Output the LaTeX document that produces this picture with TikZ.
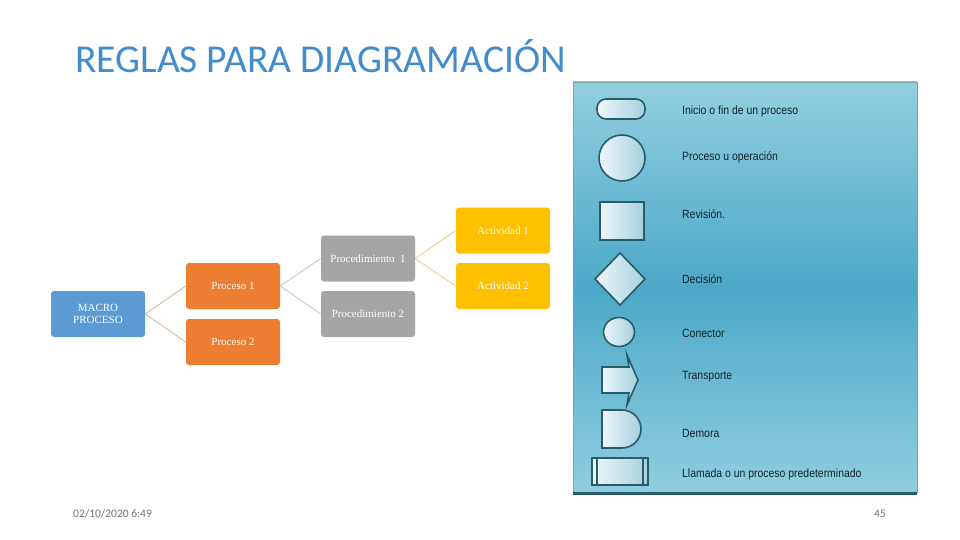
\documentclass[tikz,border=0pt]{standalone}
\usepackage{fontspec}
\setmainfont{Liberation Serif}
\newfontfamily\titlefont{Carlito}
\newfontfamily\labelfont{Liberation Sans}
\newfontfamily\footfont{Carlito}
\definecolor{macroblue}{RGB}{91,155,213}
\definecolor{procorange}{RGB}{237,125,49}
\definecolor{procgray}{RGB}{165,165,165}
\definecolor{actgold}{RGB}{255,192,0}
\definecolor{titleblue}{RGB}{66,140,206}
\definecolor{paneltop}{RGB}{146,207,224}
\definecolor{panelmid}{RGB}{76,168,199}
\definecolor{panelbot}{RGB}{143,206,224}
\definecolor{shapeline}{RGB}{40,92,106}
\definecolor{shapelight}{RGB}{238,247,250}
\definecolor{shapedark}{RGB}{165,208,222}
\definecolor{labeltext}{RGB}{20,36,44}
\definecolor{linktan}{RGB}{200,168,128}
\definecolor{linkgray}{RGB}{180,180,180}
\definecolor{linkgold}{RGB}{232,192,80}
\tikzset{
  box/.style={rounded corners=3pt, minimum width=94pt, minimum height=46pt,
    text=white, font=\fontsize{11}{12}\selectfont, align=center, inner sep=1pt},
  macrobox/.style={box, fill=macroblue},
  procbox/.style={box, fill=procorange},
  pdbox/.style={box, fill=procgray},
  actbox/.style={box, fill=actgold},
  link/.style={line width=0.6pt},
  sym/.style={draw=shapeline, line width=1.6pt, left color=shapelight, right color=shapedark},
  leglabel/.style={anchor=west, font=\labelfont\fontsize{12}{13}\selectfont, text=labeltext, xscale=0.87, inner sep=0pt},
  foot/.style={font=\footfont\fontsize{11.5}{13}\selectfont, text=black!55, inner sep=0pt}
}
\begin{document}
\begin{tikzpicture}[x=1pt,y=-1pt]
\useasboundingbox (0,0) rectangle (960,540);
\fill[white] (0,0) rectangle (960,540);
% title
\node[anchor=west, inner sep=0pt, font=\titlefont\fontsize{39.5}{44}\selectfont, text=titleblue] (title) at (75,56) {REGLAS PARA DIAGRAMACIÓN};
% legend panel
\shade[top color=paneltop, bottom color=panelbot, middle color=panelmid] (573,82) rectangle (917,493);
\draw[shapeline!60, line width=0.6pt] (573,493) -- (573,82) -- (917,82) -- (917,493);
\fill[shapeline] (573,491.5) rectangle (917,495);
% legend symbols
\node[sym, rounded corners=9pt, minimum width=48pt, minimum height=20pt, inner sep=0pt] (s1) at (621,109) {};
\node[sym, circle, minimum size=46pt, inner sep=0pt] (s2) at (622,158) {};
\node[sym, minimum width=44pt, minimum height=38pt, inner sep=0pt] (s3) at (622,221) {};
\draw[sym] (620,253) -- (645,279) -- (620,305) -- (595,279) -- cycle;
\draw[sym] (619,332) ellipse [x radius=15.5, y radius=14.5];
\draw[sym] (602,367) -- (629,367) -- (627,355) -- (638,380) -- (627,405) -- (629,393) -- (602,393) -- cycle;
\draw[sym] (602,410) -- (622,410) arc (-90:90:19) -- (602,448) -- cycle;
\draw[sym] (592,458) rectangle (648,485);
\draw[draw=shapeline, line width=1.6pt] (597,458) -- (597,485) (643,458) -- (643,485);
% legend labels
\node[leglabel] (l1) at (682,111) {Inicio o fin de un proceso};
\node[leglabel] (l2) at (682,157) {Proceso u operación};
\node[leglabel] (l3) at (682,214) {Revisión.};
\node[leglabel] (l4) at (682,279) {Decisión};
\node[leglabel] (l5) at (682,333) {Conector};
\node[leglabel] (l6) at (682,377) {Transporte};
\node[leglabel] (l7) at (682,433) {Demora};
\node[leglabel] (l8) at (682,474) {Llamada o un proceso predeterminado};
% hierarchy
\node[macrobox] (macro) at (98,314) {MACRO\\PROCESO};
\node[procbox] (p1) at (233,286) {Proceso 1};
\node[procbox] (p2) at (233,342) {Proceso 2};
\node[pdbox] (pd1) at (368,258.5) {Procedimiento\ \ 1};
\node[pdbox] (pd2) at (368,314) {Procedimiento 2};
\node[actbox] (a1) at (503,230.5) {Actividad 1};
\node[actbox] (a2) at (503,286) {Actividad 2};
\draw[link, linktan] (p1.west) -- (macro.east) -- (p2.west);
\draw[link, linkgray] (pd1.west) -- (p1.east) -- (pd2.west);
\draw[link, linkgold] (a1.west) -- (pd1.east) -- (a2.west);
% footer
\node[foot, anchor=west] (date) at (73,514) {02/10/2020 6:49};
\node[foot] (page) at (880,514) {45};
\end{tikzpicture}
\end{document}
